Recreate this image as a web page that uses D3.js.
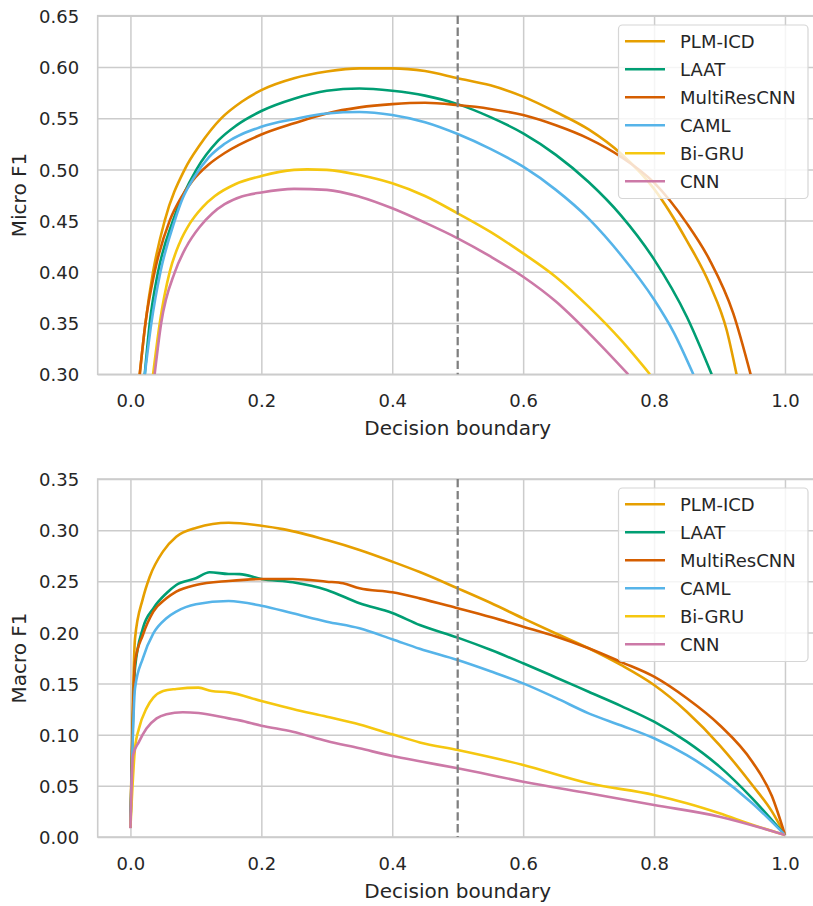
<!DOCTYPE html>
<html>
<head>
<meta charset="utf-8">
<script src="https://cdn.jsdelivr.net/npm/d3@7"></script>
<style>
  html, body { margin: 0; padding: 0; background: #ffffff; }
  svg { display: block; font-family: "DejaVu Sans", sans-serif; }
</style>
</head>
<body>
<svg id="chart" width="813" height="906"></svg>
<script>
// ---------------- DATA ----------------
const models = ["PLM-ICD", "LAAT", "MultiResCNN", "CAML", "Bi-GRU", "CNN"];
const colors = ["#E69F00", "#009E73", "#D55E00", "#56B4E9", "#F5C710", "#CC79A7"];
const xTicks = [0.0, 0.2, 0.4, 0.6, 0.8, 1.0];
const microTicks = [0.30, 0.35, 0.40, 0.45, 0.50, 0.55, 0.60, 0.65];
const macroTicks = [0.00, 0.05, 0.10, 0.15, 0.20, 0.25, 0.30, 0.35];
const threshold = 0.5;

// Micro F1 vs decision boundary  [boundary, F1]
const microPLM = [[0.0142,0.30],[0.0229,0.35],[0.0346,0.40],[0.0524,0.45],[0.083,0.50],[0.106,0.5237],[0.139,0.55],[0.170,0.566],[0.2,0.5774],[0.25,0.589],[0.3,0.5955],[0.35,0.5986],[0.4,0.5986],[0.45,0.596],[0.5,0.589],[0.55,0.582],[0.6,0.571],[0.65,0.556],[0.7,0.539],[0.75,0.515],[0.8,0.481],[0.85,0.4305],[0.885,0.3878],[0.911,0.343],[0.926,0.30]];
const microLAAT = [[0.0219,0.30],[0.0295,0.35],[0.0423,0.40],[0.065,0.45],[0.101,0.50],[0.134,0.528],[0.162,0.543],[0.2,0.557],[0.25,0.569],[0.3,0.5767],[0.35,0.579],[0.4,0.5767],[0.45,0.572],[0.5,0.5637],[0.55,0.551],[0.6,0.5352],[0.65,0.5142],[0.7,0.4877],[0.75,0.4547],[0.8,0.4122],[0.85,0.3562],[0.888,0.30]];
const microMultiRes = [[0.0142,0.30],[0.023,0.35],[0.037,0.40],[0.060,0.45],[0.077,0.472],[0.095,0.489],[0.12,0.505],[0.144,0.516],[0.2,0.534],[0.25,0.545],[0.3,0.5546],[0.35,0.5605],[0.4,0.5637],[0.45,0.565],[0.5,0.5628],[0.55,0.559],[0.6,0.553],[0.65,0.543],[0.7,0.530],[0.75,0.512],[0.8,0.487],[0.85,0.4473],[0.885,0.4115],[0.921,0.3595],[0.9475,0.30]];
const microCAML = [[0.022,0.30],[0.032,0.35],[0.0459,0.40],[0.0677,0.45],[0.08,0.472],[0.097,0.492],[0.12,0.512],[0.144,0.525],[0.2,0.5416],[0.25,0.549],[0.3,0.5546],[0.35,0.556],[0.4,0.553],[0.45,0.546],[0.5,0.5345],[0.55,0.52],[0.6,0.5026],[0.65,0.480],[0.7,0.452],[0.75,0.416],[0.8,0.373],[0.83,0.341],[0.86,0.30]];
const microBiGRU = [[0.0346,0.30],[0.0448,0.35],[0.060,0.40],[0.075,0.428],[0.0906,0.447],[0.11,0.463],[0.129,0.474],[0.16,0.4855],[0.2,0.4935],[0.25,0.4995],[0.27,0.500],[0.3,0.4995],[0.35,0.4945],[0.4,0.4864],[0.45,0.474],[0.5,0.4571],[0.55,0.439],[0.6,0.418],[0.65,0.395],[0.7,0.366],[0.75,0.333],[0.7937,0.30]];
const microCNN = [[0.037,0.30],[0.047,0.35],[0.068,0.40],[0.085,0.424],[0.106,0.444],[0.125,0.457],[0.144,0.466],[0.17,0.4735],[0.2,0.4775],[0.25,0.481],[0.3,0.480],[0.35,0.4733],[0.4,0.462],[0.45,0.448],[0.5,0.4327],[0.55,0.415],[0.6,0.3952],[0.65,0.371],[0.7,0.3405],[0.7605,0.30]];

// Macro F1 vs decision boundary  [boundary, F1]
const macroPLM = [[0,0.009],[0.007,0.194],[0.019,0.233],[0.0295,0.2545],[0.0496,0.279],[0.070,0.2936],[0.101,0.3024],[0.15,0.3073],[0.2,0.3043],[0.233,0.301],[0.3,0.2903],[0.35,0.2806],[0.4,0.2692],[0.442,0.259],[0.5,0.2431],[0.55,0.229],[0.6,0.2138],[0.65,0.199],[0.7,0.1845],[0.75,0.168],[0.8,0.1486],[0.85,0.1225],[0.9,0.0899],[0.95,0.0508],[0.98,0.025],[1.0,0.002]];
const macroLAAT = [[0,0.009],[0.007,0.165],[0.019,0.204],[0.035,0.2235],[0.055,0.2383],[0.070,0.2464],[0.10,0.2529],[0.121,0.2588],[0.15,0.2571],[0.167,0.257],[0.2,0.2522],[0.248,0.249],[0.3,0.2415],[0.35,0.2285],[0.4,0.219],[0.442,0.2073],[0.5,0.1949],[0.55,0.183],[0.6,0.1698],[0.65,0.156],[0.7,0.142],[0.75,0.128],[0.8,0.1127],[0.85,0.0932],[0.9,0.0688],[0.95,0.0378],[1.0,0.002]];
const macroMultiRes = [[0,0.009],[0.007,0.171],[0.019,0.1975],[0.035,0.2203],[0.055,0.2333],[0.070,0.2399],[0.10,0.2464],[0.15,0.2503],[0.2,0.2522],[0.248,0.2522],[0.3,0.2496],[0.325,0.248],[0.35,0.2431],[0.4,0.2392],[0.442,0.2333],[0.5,0.2236],[0.55,0.215],[0.6,0.2056],[0.65,0.196],[0.7,0.1845],[0.75,0.171],[0.8,0.1567],[0.85,0.1356],[0.9,0.1095],[0.95,0.0736],[0.98,0.04],[1.0,0.002]];
const macroCAML = [[0,0.009],[0.007,0.1454],[0.019,0.1747],[0.035,0.199],[0.055,0.2138],[0.070,0.2203],[0.10,0.2275],[0.15,0.2307],[0.2,0.2261],[0.248,0.2187],[0.3,0.2105],[0.35,0.204],[0.4,0.1933],[0.442,0.184],[0.5,0.173],[0.55,0.162],[0.6,0.1502],[0.65,0.136],[0.7,0.1209],[0.75,0.109],[0.8,0.0965],[0.85,0.080],[0.9,0.059],[0.95,0.033],[1.0,0.002]];
const macroBiGRU = [[0,0.009],[0.007,0.0867],[0.013,0.106],[0.0245,0.1258],[0.035,0.1362],[0.05,0.1427],[0.07,0.1447],[0.104,0.146],[0.124,0.1427],[0.15,0.1414],[0.2,0.133],[0.248,0.1252],[0.3,0.1176],[0.35,0.11],[0.4,0.1004],[0.442,0.0925],[0.5,0.085],[0.6,0.0704],[0.7,0.0525],[0.8,0.0411],[0.85,0.033],[0.9,0.0232],[0.95,0.012],[1.0,0.002]];
const macroCNN = [[0,0.0085],[0.004,0.08],[0.013,0.093],[0.0245,0.106],[0.04,0.116],[0.055,0.12],[0.08,0.122],[0.104,0.1212],[0.15,0.116],[0.167,0.114],[0.2,0.1088],[0.248,0.103],[0.3,0.0939],[0.35,0.0867],[0.4,0.0792],[0.442,0.074],[0.5,0.0672],[0.6,0.0541],[0.7,0.0427],[0.8,0.0313],[0.9,0.0199],[1.0,0.002]];

const microSeries = [microPLM, microLAAT, microMultiRes, microCAML, microBiGRU, microCNN];
const macroSeries = [macroPLM, macroLAAT, macroMultiRes, macroCAML, macroBiGRU, macroCNN];

// ---------------- DRAW ----------------
const svg = d3.select("#chart");
const textColor = "#262626";
const gridColor = "#cccccc";

function panel(opts) {
  const { top, bottom, yDomain, yTicks, yLabel, series, id, legendTop } = opts;
  const left = 97.7, right = 817.7;
  const x = d3.scaleLinear().domain([-0.05, 1.05]).range([left, right]);
  const y = d3.scaleLinear().domain(yDomain).range([bottom, top]);
  const g = svg.append("g");

  g.append("clipPath").attr("id", id).append("rect")
    .attr("x", left).attr("y", top).attr("width", right - left).attr("height", bottom - top);

  // grid via axes
  const gx = g.append("g").attr("transform", `translate(0,${bottom})`)
    .call(d3.axisBottom(x).tickValues(xTicks).tickSize(-(bottom - top)).tickFormat(d3.format(".1f")).tickPadding(0));
  gx.select(".domain").remove();
  gx.selectAll(".tick line").attr("stroke", gridColor).attr("stroke-width", 1.5);
  gx.selectAll(".tick text").attr("fill", textColor).attr("font-size", 18)
    .attr("y", 33).attr("dy", null).attr("font-family", "DejaVu Sans");

  const gy = g.append("g").attr("transform", `translate(${left},0)`)
    .call(d3.axisLeft(y).tickValues(yTicks).tickSize(-(right - left)).tickFormat(d3.format(".2f")).tickPadding(0));
  gy.select(".domain").remove();
  gy.selectAll(".tick line").attr("stroke", gridColor).attr("stroke-width", 1.5);
  gy.selectAll(".tick text").attr("fill", textColor).attr("font-size", 18)
    .attr("x", -18.5).attr("dy", "0.37em").attr("font-family", "DejaVu Sans");

  // spines
  g.append("rect").attr("x", left).attr("y", top).attr("width", right - left).attr("height", bottom - top)
    .attr("fill", "none").attr("stroke", gridColor).attr("stroke-width", 1.6);

  // curves
  const line = d3.line().x(d => x(d[0])).y(d => y(d[1])).curve(d3.curveMonotoneX);
  const lines = g.append("g").attr("clip-path", `url(#${id})`);
  series.forEach((s, i) => {
    lines.append("path").attr("d", line(s)).attr("fill", "none")
      .attr("stroke", colors[i]).attr("stroke-width", 2.6)
      .attr("stroke-linejoin", "round");
  });

  // threshold line
  g.append("line").attr("x1", x(threshold)).attr("x2", x(threshold))
    .attr("y1", top).attr("y2", bottom)
    .attr("stroke", "#7f7f7f").attr("stroke-width", 2.25).attr("stroke-dasharray", "8.3,3.6");

  // axis labels
  g.append("text").attr("x", x(0.5)).attr("y", bottom + 61).attr("text-anchor", "middle")
    .attr("font-size", 20).attr("fill", textColor).text("Decision boundary");
  g.append("text").attr("transform", `translate(26,${(top + bottom) / 2}) rotate(-90)`)
    .attr("text-anchor", "middle").attr("font-size", 20).attr("fill", textColor).text(yLabel);

  // legend
  const lg = g.append("g");
  lg.append("rect").attr("x", 618.5).attr("y", legendTop).attr("width", 189.5).attr("height", 173.5)
    .attr("rx", 4).attr("fill", "#ffffff").attr("fill-opacity", 0.8)
    .attr("stroke", "#d6d6d6").attr("stroke-width", 1.2);
  models.forEach((m, i) => {
    const cy = legendTop + 16.3 + 28 * i;
    lg.append("line").attr("x1", 625).attr("x2", 665).attr("y1", cy).attr("y2", cy)
      .attr("stroke", colors[i]).attr("stroke-width", 2.6);
    lg.append("text").attr("x", 680).attr("y", cy).attr("dy", "0.36em")
      .attr("font-size", 18).attr("fill", textColor).text(m);
  });
}

panel({ top: 15.7, bottom: 374.3, yDomain: [0.30, 0.65], yTicks: microTicks, yLabel: "Micro F1",
        series: microSeries, id: "clipTop", legendTop: 25 });
panel({ top: 479, bottom: 837, yDomain: [0.0, 0.35], yTicks: macroTicks, yLabel: "Macro F1",
        series: macroSeries, id: "clipBottom", legendTop: 488 });
</script>
</body>
</html>
